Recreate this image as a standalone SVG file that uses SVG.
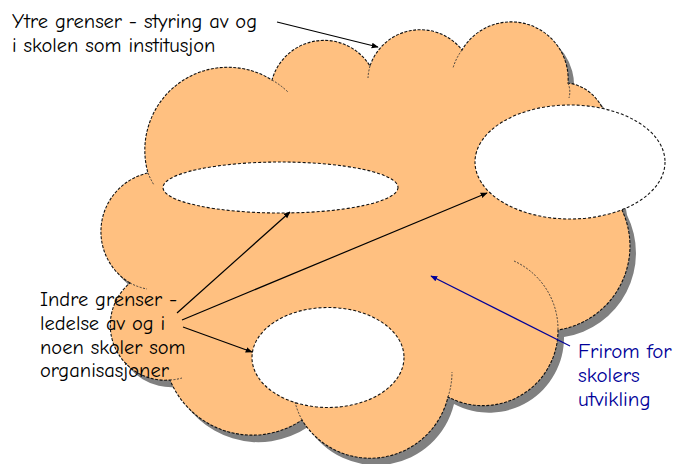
<svg xmlns="http://www.w3.org/2000/svg" width="679" height="464" viewBox="0 0 679 464">
<style>
.lbl{font-family:"Comic Sans MS","Comic Neue","Open Sans","DejaVu Sans",sans-serif;font-size:20.5px;fill:#000}
.blue{fill:#000099;font-size:21px}
.edge{fill:none;stroke:#111;stroke-width:1.1;stroke-dasharray:3 1.5}
.inner{fill:none;stroke:#333;stroke-width:0.9;stroke-dasharray:2 1.5}
.hole{fill:#fff;stroke:#111;stroke-width:1.1;stroke-dasharray:3 2}
.conn{fill:none;stroke:#000;stroke-width:1.2}
.connb{fill:none;stroke:#000099;stroke-width:1.2}
</style>
<defs>
<path id="cloudShape" d="M130,283 A60,60 0 0 1 148,173 A83,83 0 0 1 272,80 A54,54 0 0 1 370,66 A53,53 0 0 1 462,50 A57,57 0 0 1 568,83 A45,45 0 0 1 605,115 L621,208 A85,85 0 0 1 558,330 A75,75 0 0 1 448,397 A80,80 0 0 1 302,420 A89,89 0 0 1 170,380 A55,55 0 0 1 130,283 Z"/>
<marker id="ah" viewBox="0 0 10 10" refX="9" refY="5" markerWidth="7" markerHeight="7" markerUnits="userSpaceOnUse" orient="auto">
<path d="M0,1 L10,5 L0,9 Z" fill="#000"/>
</marker>
<marker id="ahb" viewBox="0 0 10 10" refX="9" refY="5" markerWidth="7" markerHeight="7" markerUnits="userSpaceOnUse" orient="auto">
<path d="M0,1 L10,5 L0,9 Z" fill="#000099"/>
</marker>
</defs>
<g id="cloud">
<use href="#cloudShape" transform="translate(6,7)" fill="#808080"/>
<use href="#cloudShape" fill="#FFC080"/>
<use href="#cloudShape" class="edge"/>
<path class="inner" d="M148,173 A83,83 0 0 0 154,185"/>
<path class="inner" d="M272,80 A83,83 0 0 1 288,92"/>
<path class="inner" d="M370,66 A53,53 0 0 0 368,78"/>
<path class="inner" d="M462,50 A57,57 0 0 0 453,68"/>
<path class="inner" d="M568,83 Q571,90 569,98"/>
<path class="inner" d="M130,283 A60,60 0 0 0 147,289"/>
<path class="inner" d="M170,380 A55,55 0 0 0 182,378"/>
<path class="inner" d="M302,420 A80,80 0 0 1 295,402"/>
<path class="inner" d="M448,397 A80,80 0 0 0 452,372"/>
<path class="inner" d="M514,261 A75,75 0 0 1 558,330"/>
</g>
<g id="hole-left"><ellipse class="hole" cx="280.5" cy="187.5" rx="117.5" ry="25.5"/></g>
<g id="hole-right"><ellipse class="hole" cx="570" cy="162" rx="95" ry="57"/></g>
<g id="hole-bottom"><ellipse class="hole" cx="328" cy="357.5" rx="76" ry="50"/></g>
<g id="connectors">
<line class="conn" x1="277" y1="22" x2="378" y2="47" marker-end="url(#ah)"/>
<line class="conn" x1="177" y1="313" x2="290" y2="212" marker-end="url(#ah)"/>
<line class="conn" x1="182" y1="320" x2="487" y2="193" marker-end="url(#ah)"/>
<line class="conn" x1="183" y1="327" x2="252" y2="352" marker-end="url(#ah)"/>
<line class="connb" x1="570" y1="346" x2="431" y2="276" marker-end="url(#ahb)"/>
</g>
<g id="label-ytre">
<text class="lbl" x="12" y="28">Ytre grenser - styring av og</text>
<text class="lbl" x="12" y="52">i skolen som institusjon</text>
</g>
<g id="label-indre">
<text class="lbl" x="40" y="306">Indre grenser -</text>
<text class="lbl" x="40" y="330">ledelse av og i</text>
<text class="lbl" x="40" y="354">noen skoler som</text>
<text class="lbl" x="40" y="377">organisasjoner</text>
</g>
<g id="label-frirom">
<text class="lbl blue" x="578" y="358">Frirom for</text>
<text class="lbl blue" x="578" y="382">skolers</text>
<text class="lbl blue" x="578" y="406">utvikling</text>
</g>
</svg>
